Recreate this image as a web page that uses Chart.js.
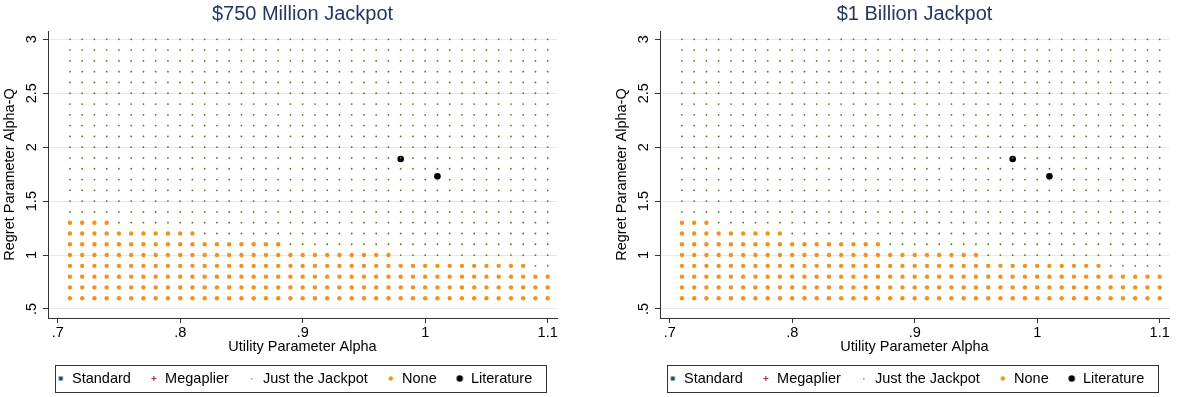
<!DOCTYPE html>
<html>
<head>
<meta charset="utf-8">
<script src="https://cdn.jsdelivr.net/npm/chart.js@4.4.1/dist/chart.umd.min.js"></script>
<style>
  html, body { margin: 0; padding: 0; background: #fff; }
  body { width: 1177px; height: 397px; position: relative; overflow: hidden; }
  canvas { position: absolute; top: 0; }
  #left { left: 0; }
  #right { left: 612px; }
</style>
</head>
<body>
<canvas id="left" width="565" height="397"></canvas>
<canvas id="right" width="565" height="397"></canvas>
<script>
var seriesNames = ["Standard", "Megaplier", "Just the Jackpot", "None", "Literature"];
var panelTitles = ["$750 Million Jackpot", "$1 Billion Jackpot"];

var alphaGrid = [0.71, 0.72, 0.73, 0.74, 0.75, 0.76, 0.77, 0.78, 0.79, 0.80,
                 0.81, 0.82, 0.83, 0.84, 0.85, 0.86, 0.87, 0.88, 0.89, 0.90,
                 0.91, 0.92, 0.93, 0.94, 0.95, 0.96, 0.97, 0.98, 0.99, 1.00,
                 1.01, 1.02, 1.03, 1.04, 1.05, 1.06, 1.07, 1.08, 1.09, 1.10];
var alphaQGrid = [0.6, 0.7, 0.8, 0.9, 1.0, 1.1, 1.2, 1.3, 1.4, 1.5, 1.6, 1.7, 1.8,
                  1.9, 2.0, 2.1, 2.2, 2.3, 2.4, 2.5, 2.6, 2.7, 2.8, 2.9, 3.0];

// highest alpha where the choice is "None", one entry per alphaQ row (.6, .7, ... 1.3)
var noneMaxAlpha750 = [1.10, 1.10, 1.10, 1.08, 0.97, 0.88, 0.81, 0.74];
var noneMaxAlpha1B  = [1.10, 1.10, 1.10, 1.05, 0.95, 0.87, 0.79, 0.73];

var literatureAlpha = [0.98, 1.01];
var literatureAlphaQ = [1.89, 1.73];

var xTickValues = [0.7, 0.8, 0.9, 1.0, 1.1];
var xTickLabels = [".7", ".8", ".9", "1", "1.1"];
var yTickValues = [0.5, 1, 1.5, 2, 2.5, 3];
var yTickLabels = [".5", "1", "1.5", "2", "2.5", "3"];

var colors = ["#1a476f", "#90353b", "#55752f", "#f0921e", "#000000"];
var FONT = "'Liberation Sans', Arial, Helvetica, sans-serif";

Chart.defaults.font.family = FONT;
Chart.defaults.font.size = 14.5;
Chart.defaults.color = "#000";

function markerCanvas(draw) {
    var c = document.createElement("canvas");
    c.width = 9;
    c.height = 9;
    draw(c.getContext("2d"));
    return c;
}

var legendMarkers = [
    markerCanvas(function (g) { g.fillStyle = colors[0]; g.fillRect(2.5, 2.5, 4, 4); }),
    markerCanvas(function (g) {
        g.strokeStyle = colors[1]; g.lineWidth = 1.2; g.beginPath();
        g.moveTo(4.5, 2); g.lineTo(4.5, 7); g.moveTo(2, 4.5); g.lineTo(7, 4.5); g.stroke();
    }),
    markerCanvas(function (g) { g.fillStyle = colors[2]; g.fillRect(4, 4, 1, 1.5); }),
    markerCanvas(function (g) { g.fillStyle = colors[3]; g.beginPath(); g.arc(4.5, 4.5, 2.2, 0, 2 * Math.PI); g.fill(); }),
    markerCanvas(function (g) { g.fillStyle = colors[4]; g.beginPath(); g.arc(4.5, 4.5, 3.2, 0, 2 * Math.PI); g.fill(); })
];

function splitGrid(noneMax) {
    var jackpot = [], none = [];
    alphaQGrid.forEach(function (q, i) {
        alphaGrid.forEach(function (a) {
            if (i < noneMax.length && a <= noneMax[i] + 1e-9) {
                none.push({ x: a, y: q });
            } else {
                jackpot.push({ x: a, y: q });
            }
        });
    });
    return { jackpot: jackpot, none: none };
}

// rotated y tick labels (Stata style) and the legend frame
var extras = {
    id: "extras",
    beforeDraw: function (chart) {
        // move the legend row under the plot, keeping its full width so it stays on one line
        chart.legend.left = chart.chartArea.left - 32;
        chart.legend.right = chart.chartArea.right + 16;
    },
    afterDraw: function (chart) {
        var ctx = chart.ctx;
        var y = chart.scales.y;
        ctx.save();
        ctx.font = "14.5px " + FONT;
        ctx.fillStyle = "#000";
        ctx.textAlign = "center";
        ctx.textBaseline = "middle";
        yTickValues.forEach(function (v, i) {
            ctx.save();
            ctx.translate(32, y.getPixelForValue(v));
            ctx.rotate(-Math.PI / 2);
            ctx.fillText(yTickLabels[i], 0, 0);
            ctx.restore();
        });

        var lg = chart.legend;
        var pad = lg.options.labels.padding;
        var lw = lg.lineWidths[0];
        var start = (lg.left + pad + lg.right - lw) / 2;
        var end = start + lw - pad;
        var top = lg.top + pad;
        ctx.strokeStyle = "#333";
        ctx.lineWidth = 1;
        ctx.strokeRect(Math.round(start - 2) + 0.5, Math.round(top - 6) + 0.5,
                       Math.round(end - start + 16), 27);
        ctx.restore();
    }
};

function makeChart(canvasId, title, noneMax) {
    var grid = splitGrid(noneMax);
    var literature = literatureAlpha.map(function (a, i) {
        return { x: a, y: literatureAlphaQ[i] };
    });
    var seriesData = [[], [], grid.jackpot, grid.none, literature];
    var radii = [2, 2.5, 0.9, 2.2, 3.3];
    var styles = ["rect", "cross", "circle", "circle", "circle"];

    return new Chart(document.getElementById(canvasId), {
        type: "scatter",
        data: {
            datasets: seriesNames.map(function (name, i) {
                return {
                    label: name,
                    data: seriesData[i],
                    pointStyle: styles[i],
                    pointRadius: radii[i],
                    pointBackgroundColor: colors[i],
                    pointBorderColor: colors[i],
                    pointBorderWidth: i === 1 ? 1 : 0
                };
            })
        },
        options: {
            responsive: false,
            animation: false,
            events: [],
            layout: { padding: { left: 0, right: 8, top: 0, bottom: 1.25 } },
            scales: {
                x: {
                    type: "linear",
                    min: 0.6921,
                    max: 1.1076,
                    afterBuildTicks: function (s) {
                        s.ticks = xTickValues.map(function (v) { return { value: v }; });
                    },
                    afterFit: function (s) { s.height = 34.25; },
                    grid: { drawOnChartArea: false, drawTicks: true, tickLength: 5, tickColor: "#333" },
                    border: { color: "#333", width: 1 },
                    ticks: {
                        autoSkip: false,
                        maxRotation: 0,
                        padding: 1,
                        callback: function (v, i) { return xTickLabels[i]; }
                    },
                    title: {
                        display: true,
                        text: "Utility Parameter Alpha",
                        padding: { top: 0, bottom: -3.45 }
                    }
                },
                y: {
                    type: "linear",
                    min: 0.4165,
                    max: 3.077,
                    afterBuildTicks: function (s) {
                        s.ticks = yTickValues.map(function (v) { return { value: v }; });
                    },
                    afterFit: function (s) { s.width = 48; },
                    grid: { color: "#e2eaed", lineWidth: 1, drawTicks: true, tickLength: 5, tickColor: "#333" },
                    border: { color: "#333", width: 1 },
                    ticks: { display: false },
                    title: {
                        display: true,
                        text: "Regret Parameter Alpha-Q",
                        padding: { top: 1, bottom: 0 }
                    }
                }
            },
            plugins: {
                title: {
                    display: true,
                    text: title,
                    color: "#243763",
                    fullSize: false,
                    font: { size: 20, weight: "normal" },
                    padding: { top: 2, bottom: 5 }
                },
                legend: {
                    position: "bottom",
                    labels: {
                        usePointStyle: true,
                        boxWidth: 8,
                        boxHeight: 8,
                        padding: 19,
                        generateLabels: function (chart) {
                            return chart.data.datasets.map(function (ds, i) {
                                return {
                                    text: ds.label,
                                    pointStyle: legendMarkers[i],
                                    fillStyle: "#fff",
                                    strokeStyle: "#fff",
                                    lineWidth: 0,
                                    hidden: false,
                                    datasetIndex: i,
                                    fontColor: "#000"
                                };
                            });
                        }
                    }
                },
                tooltip: { enabled: false }
            }
        },
        plugins: [extras]
    });
}

makeChart("left", panelTitles[0], noneMaxAlpha750);
makeChart("right", panelTitles[1], noneMaxAlpha1B);
</script>
</body>
</html>
